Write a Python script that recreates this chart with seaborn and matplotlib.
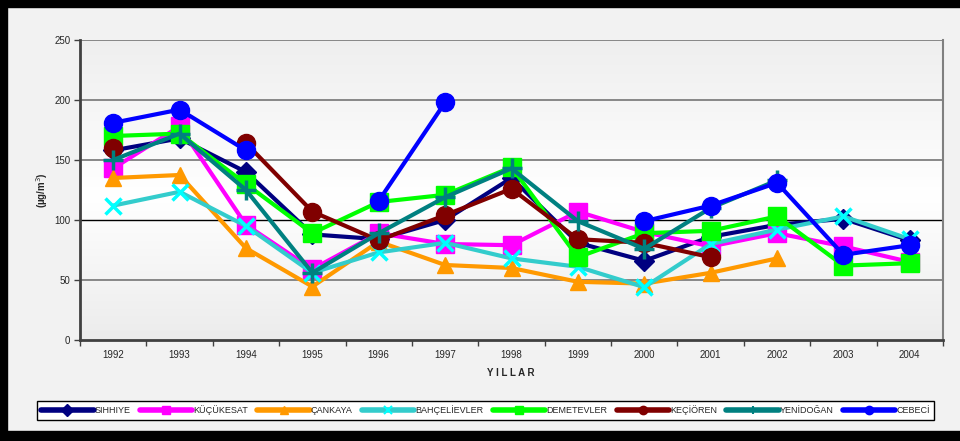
import numpy as np
import pandas as pd
import matplotlib
matplotlib.use("Agg")
import matplotlib.pyplot as plt
from matplotlib.lines import Line2D
from matplotlib.patches import Rectangle
import seaborn as sns

# Annual mean concentrations per station (µg/m³); NaN = no measurement
years = ["1992", "1993", "1994", "1995", "1996", "1997", "1998",
         "1999", "2000", "2001", "2002", "2003", "2004"]
nan = np.nan
sihhiye      = [158, 168, 140, 88, 84, 100, 135, 81, 66, 86, 96, 101, 83]
kucukesat    = [143, 178, 96, 59, 89, 80, 79, 107, 90, 78, 89, 78, 65]
cankaya      = [135, 137.5, 76.5, 44.5, 82, 62.5, 60, 48.5, 47, 56, 68, nan, nan]
bahcelievler = [112, 123.5, 95, 56, 73, 81, 68, 61, 44, 80, 92, 103, 84]
demetevler   = [170, 172, 130, 89, 115, 121, 144, 69, 89, 91, 103, 62, 64]
kecioren     = [160, nan, 164, 107, 83, 104, 126, 84, 81, 69, nan, nan, nan]
yenidogan    = [150, 172, 125, 56, 89, 119, 143, 99, 76, 110, 133, nan, nan]
cebeci       = [181, 192, 158, nan, 116, 198, nan, nan, 99, 112, 131, 71, 79]

station_names = ["SIHHIYE", "KÜÇÜKESAT", "ÇANKAYA", "BAHÇELİEVLER",
                 "DEMETEVLER", "KEÇİÖREN", "YENİDOĞAN", "CEBECİ"]
station_values = [sihhiye, kucukesat, cankaya, bahcelievler,
                  demetevler, kecioren, yenidogan, cebeci]

# line colour, marker, marker size, marker colour, marker edge width
styles = [
    ("#000080", "D", 10, "#000080", 1.0),
    ("#FF00FF", "s", 13, "#FF00FF", 1.0),
    ("#FF9900", "^", 11, "#FF9900", 1.0),
    ("#33CCCC", "x", 12, "#00FFFF", 2.5),
    ("#00FF00", "s", 13, "#00FF00", 1.0),
    ("#800000", "o", 13, "#800000", 1.0),
    ("#008080", "+", 14, "#008080", 2.5),
    ("#0000FF", "o", 13, "#0000FF", 1.0),
]

sns.set_style("white")
plt.rcParams["font.family"] = ["Liberation Sans", "DejaVu Sans"]

fig = plt.figure(figsize=(9.6, 4.41), dpi=100)
fig.patch.set_facecolor("#F2F2F2")
ax = fig.add_axes([80 / 960, 1 - 340 / 441, (943 - 80) / 960, 300 / 441])

# plot-area gradient: grey at top and bottom, white band in the middle
yy = np.linspace(250, 0, 300)
shade = np.interp(yy, [0, 120, 250], [0.925, 1.0, 0.935])
grad = np.repeat(shade[:, None, None], 3, axis=2)
ax.imshow(grad, extent=[-0.5, 12.5, 0, 250], aspect="auto", zorder=0,
          interpolation="bilinear")

# horizontal gridlines
for v in [50, 100, 150, 200, 250]:
    ax.axhline(v, color="black" if v == 100 else "#7F7F7F",
               lw=1.0 if v == 100 else 1.3, zorder=1)

for name, vals, (lc, mk, ms, mc, mew) in zip(station_names, station_values, styles):
    df = pd.DataFrame({"x": np.arange(len(years)), "y": vals})
    df["seg"] = df["y"].isna().cumsum()
    df = df.dropna()
    sns.lineplot(data=df, x="x", y="y", units="seg", estimator=None,
                 color=lc, linewidth=3.0, marker=mk, markersize=ms,
                 markerfacecolor=mc, markeredgecolor=mc, markeredgewidth=mew,
                 ax=ax, legend=False, zorder=3)

ax.set_xlim(-0.5, 12.5)
ax.set_ylim(0, 250)
ax.set_yticks(range(0, 251, 50))
ax.set_xticks(np.arange(-0.5, 13, 1))
ax.set_xticklabels([])
ax.set_xticks(np.arange(13), minor=True)
ax.set_xticklabels(years, minor=True)
ax.tick_params(axis="x", which="major", direction="out", length=4,
               width=1, color="#404040", bottom=True)
ax.tick_params(axis="x", which="minor", length=0, labelsize=7, pad=7)
ax.tick_params(axis="y", direction="out", length=4, width=1,
               color="#404040", labelsize=7, left=True, pad=3)
ax.set_xlabel("")
ax.set_ylabel("")

for side in ["left", "bottom"]:
    ax.spines[side].set_color("#404040")
    ax.spines[side].set_linewidth(2)
ax.spines["right"].set_color("#808080")
ax.spines["right"].set_linewidth(1.5)
ax.spines["top"].set_visible(False)

fig.text(42 / 960, 1 - 190 / 441, "(µg/m$^3$)", rotation=90, fontsize=7,
         fontweight="bold", ha="center", va="center")
fig.text(511 / 960, 1 - 373 / 441, "Y I L L A R", fontsize=7,
         fontweight="bold", ha="center", va="center")

handles = [Line2D([], [], color=lc, lw=4, marker=mk, markersize=6,
                  markerfacecolor=mc, markeredgecolor=mc,
                  markeredgewidth=1.5 if mk in "x+" else 1)
           for (lc, mk, ms, mc, mew) in styles]
leg = fig.legend(handles, station_names, loc="center",
                 bbox_to_anchor=(485.5 / 960, 1 - 410.5 / 441), ncol=8,
                 fontsize=6.5, frameon=True, fancybox=False, edgecolor="black",
                 framealpha=1, handlelength=5.8, handletextpad=0.1,
                 columnspacing=1.05, borderpad=0.5, borderaxespad=0)
leg.get_frame().set_linewidth(1)
leg.get_frame().set_facecolor("white")

# black frame around the chart
for (x0, y0, w, h) in [(0, 1 - 7 / 441, 1, 7 / 441), (0, 0, 1, 10 / 441),
                       (0, 0, 7 / 960, 1)]:
    fig.add_artist(Rectangle((x0, y0), w, h, transform=fig.transFigure,
                             color="black", zorder=10))

fig.savefig("out.png", dpi=100)
